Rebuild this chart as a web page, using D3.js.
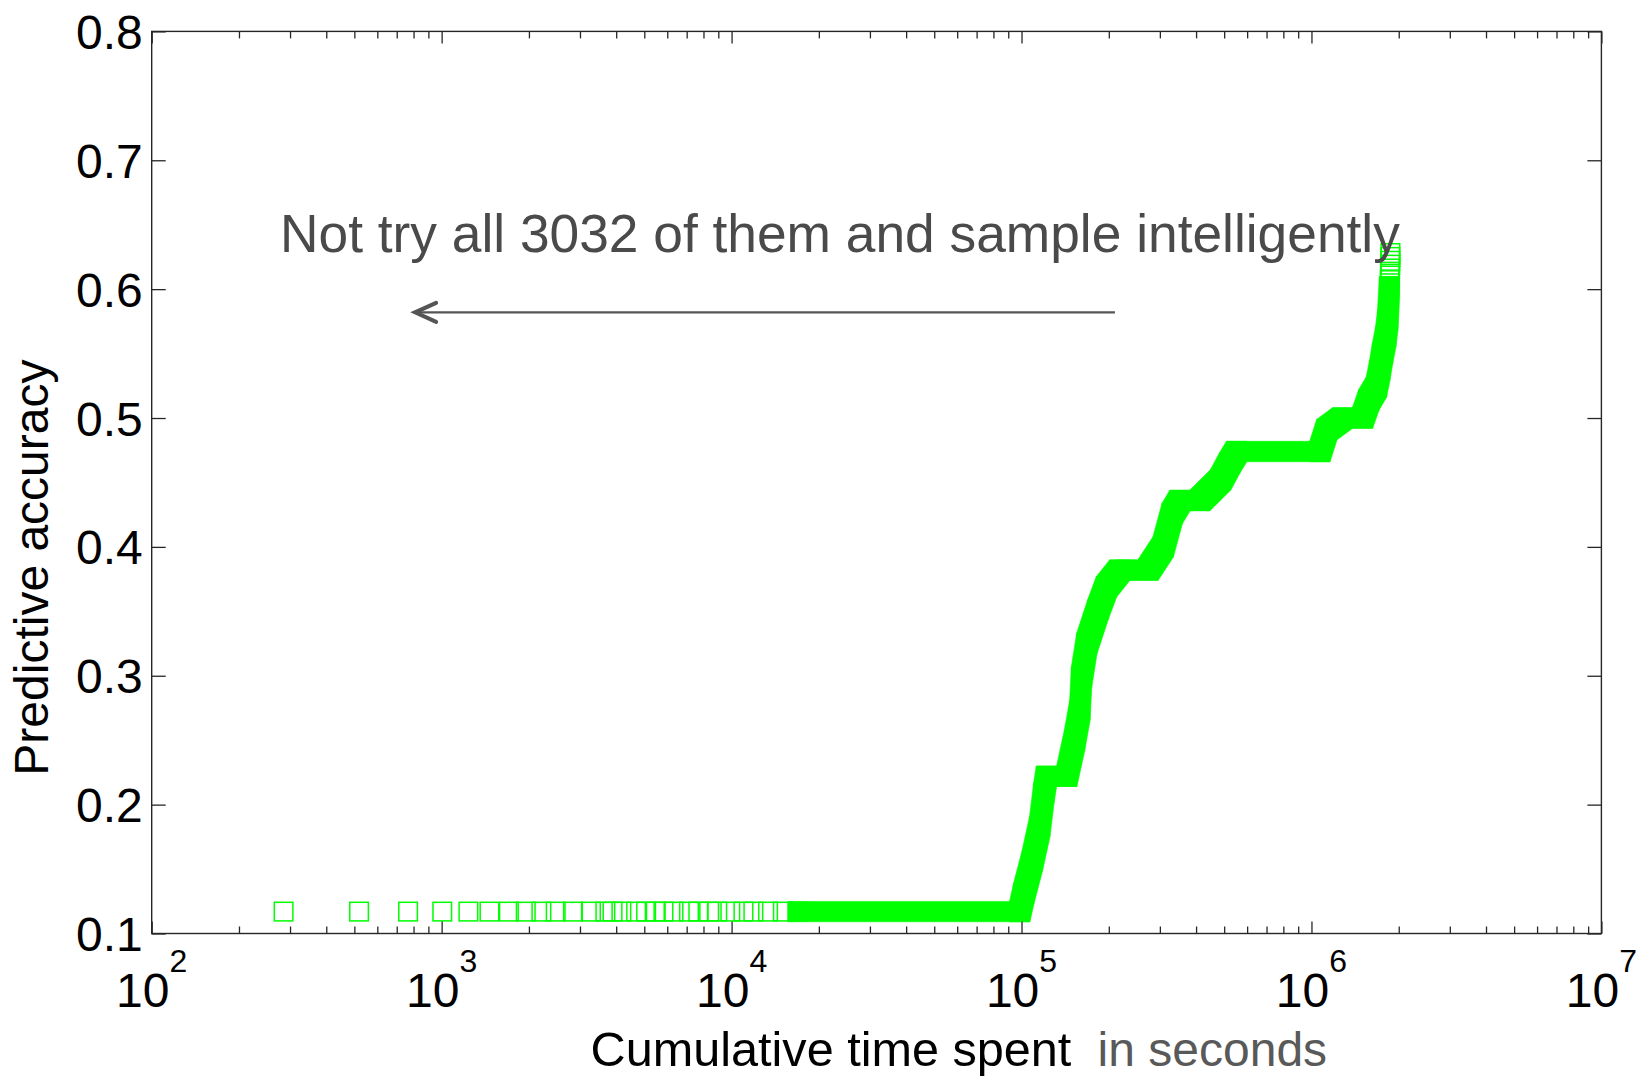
<!DOCTYPE html>
<html><head><meta charset="utf-8">
<script src="https://cdn.jsdelivr.net/npm/d3@7"></script>
<style>html,body{margin:0;padding:0;background:#fff;} svg{display:block;}</style>
</head><body><svg id="chart" width="1639" height="1077"></svg>
<script>
// ---------- data ----------
const yTickValues = [0.1, 0.2, 0.3, 0.4, 0.5, 0.6, 0.7, 0.8];
const yTickLabels = ["0.1", "0.2", "0.3", "0.4", "0.5", "0.6", "0.7", "0.8"];
const xDecadeExponents = [2, 3, 4, 5, 6, 7];
const xTickBase = "10";
const baselineAccuracy = 0.117;
// early (sparse) configurations, cumulative seconds, all at baseline accuracy
const sparseTimes = [285, 519, 766, 1005, 1237, 1462, 1706, 1950, 2208, 2474, 2838, 3273, 3671, 3885, 4168,
  4686, 5072, 5477, 5821, 6305, 7131, 7677, 8370, 8924, 9899, 10990, 11890, 13360, 15030];
// dense run of configurations (cumulative seconds, accuracy)
const bandTimes = [16930, 98600, 101800, 109100, 115600, 119400, 121900, 143200, 152400, 158900, 161100,
  168000, 183300, 196300, 218300, 230700, 273000, 308000, 331000, 352000, 412000, 486000, 522000, 552000,
  1069000, 1130000, 1280000, 1500000, 1577000, 1675000, 1720000, 1758000, 1804000, 1833000, 1858000];
const bandAccuracy = [0.117, 0.117, 0.131, 0.157, 0.183, 0.209, 0.222, 0.222, 0.250, 0.273, 0.299,
  0.325, 0.351, 0.369, 0.382, 0.382, 0.382, 0.400, 0.426, 0.436, 0.436, 0.452, 0.465, 0.474,
  0.474, 0.491, 0.500, 0.500, 0.514, 0.524, 0.537, 0.550, 0.563, 0.576, 0.602];
const topTimes = [1862000, 1865000, 1867000, 1869000, 1870000, 1871000, 1872000];
const topAccuracy = [0.607, 0.612, 0.616, 0.619, 0.622, 0.625, 0.628];
const xTitle = "Cumulative time spent";
const xTitleUnit = "in seconds";
const yTitle = "Predictive accuracy";
const annotationText = "Not try all 3032 of them and sample intelligently";
const arrowFrom = [210000, 0.582];
const arrowTo = [810, 0.582];

// ---------- layout ----------
const L = 151.7, R = 1601.4, T = 31.4, B = 933.5;
const FONT = "'Liberation Sans', Arial, Helvetica, sans-serif";
const axisColor = "#262626";
const green = "#00ff00";

const svg = d3.select("#chart");
const x = d3.scaleLog().domain([1e2, 1e7]).range([L, R]);
const y = d3.scaleLinear().domain([0.1, 0.8]).range([B, T]);

// ---------- data marks ----------
const band = bandTimes.map((t, i) => ({t, a: bandAccuracy[i]}));
const H = 10.2; // half of marker outer size
function corners(d) {
  const cx = x(d.t), cy = y(d.a);
  return [[cx - H, cy - H], [cx + H, cy - H], [cx + H, cy + H], [cx - H, cy + H]];
}
// swept squares between consecutive dense points (overlapping markers form a solid band)
const segs = d3.pairs(band);
svg.append("g").selectAll("path").data(segs).join("path")
  .attr("d", ([p, q]) => "M" + d3.polygonHull(corners(p).concat(corners(q))).join("L") + "Z")
  .attr("fill", green)
  .attr("stroke", green)
  .attr("stroke-width", 0.6);

const pts = sparseTimes.map(t => ({t, a: baselineAccuracy}))
  .concat(band)
  .concat(topTimes.map((t, i) => ({t, a: topAccuracy[i]})));
const S = 18.6;
svg.append("g").selectAll("rect").data(pts).join("rect")
  .attr("x", d => x(d.t) - S / 2)
  .attr("y", d => y(d.a) - S / 2)
  .attr("width", S).attr("height", S)
  .attr("fill", "none")
  .attr("stroke", green)
  .attr("stroke-width", 1.5);

// ---------- axes (ticks inward, box) ----------
const majorX = xDecadeExponents.map(e => Math.pow(10, e));
const minorX = [];
for (let e = 2; e < 7; e++) for (let m = 2; m <= 9; m++) minorX.push(m * Math.pow(10, e));

function styleAxis(g) {
  g.select(".domain").remove();
  g.selectAll(".tick line").attr("stroke", axisColor).attr("stroke-width", 1.3);
  g.selectAll(".tick text").remove();
}
svg.append("g").attr("transform", `translate(0,${B})`)
  .call(d3.axisBottom(x).tickValues(majorX).tickSizeInner(-12).tickSizeOuter(0).tickFormat("")).call(styleAxis);
svg.append("g").attr("transform", `translate(0,${B})`)
  .call(d3.axisBottom(x).tickValues(minorX).tickSizeInner(-7).tickSizeOuter(0).tickFormat("")).call(styleAxis);
svg.append("g").attr("transform", `translate(0,${T})`)
  .call(d3.axisTop(x).tickValues(majorX).tickSizeInner(-12).tickSizeOuter(0).tickFormat("")).call(styleAxis);
svg.append("g").attr("transform", `translate(0,${T})`)
  .call(d3.axisTop(x).tickValues(minorX).tickSizeInner(-7).tickSizeOuter(0).tickFormat("")).call(styleAxis);
svg.append("g").attr("transform", `translate(${L},0)`)
  .call(d3.axisLeft(y).tickValues(yTickValues).tickSizeInner(-14).tickSizeOuter(0).tickFormat("")).call(styleAxis);
svg.append("g").attr("transform", `translate(${R},0)`)
  .call(d3.axisRight(y).tickValues(yTickValues).tickSizeInner(-14).tickSizeOuter(0).tickFormat("")).call(styleAxis);

svg.append("rect")
  .attr("x", L).attr("y", T).attr("width", R - L).attr("height", B - T)
  .attr("fill", "none").attr("stroke", axisColor).attr("stroke-width", 1.4);

// ---------- tick labels ----------
svg.append("g").selectAll("text").data(yTickValues).join("text")
  .attr("x", L - 9)
  .attr("y", d => y(d) + 17.5)
  .attr("text-anchor", "end")
  .attr("font-family", FONT).attr("font-size", 48).attr("fill", "#000")
  .text((d, i) => yTickLabels[i]);

const xl = svg.append("g").selectAll("text").data(xDecadeExponents).join("text")
  .attr("x", d => x(Math.pow(10, d)))
  .attr("y", 1007)
  .attr("text-anchor", "middle")
  .attr("font-family", FONT).attr("fill", "#000");
xl.append("tspan").attr("font-size", 48).text(xTickBase);
xl.append("tspan").attr("font-size", 32).attr("dy", -35).text(d => String(d));

// ---------- axis titles ----------
svg.append("text")
  .attr("transform", `translate(48,567.6) rotate(-90)`)
  .attr("text-anchor", "middle")
  .attr("font-family", FONT).attr("font-size", 48).attr("fill", "#000")
  .text(yTitle);
svg.append("text")
  .attr("x", 590.6).attr("y", 1066)
  .attr("font-family", FONT).attr("font-size", 48.6).attr("fill", "#000")
  .text(xTitle);
svg.append("text")
  .attr("x", 1097.6).attr("y", 1066)
  .attr("font-family", FONT).attr("font-size", 48).attr("fill", "#595959")
  .text(xTitleUnit);

// ---------- annotation ----------
svg.append("text")
  .attr("x", 280).attr("y", 252)
  .attr("font-family", FONT).attr("font-size", 53.3).attr("fill", "#4a4a4a")
  .text(annotationText);
const ax0 = x(arrowFrom[0]), ay = y(arrowFrom[1]), ax1 = x(arrowTo[0]);
svg.append("line")
  .attr("x1", ax0).attr("y1", ay).attr("x2", ax1 + 2).attr("y2", ay)
  .attr("stroke", "#555").attr("stroke-width", 2.2);
svg.append("path")
  .attr("d", `M${ax1 + 21},${ay - 9.5} L${ax1},${ay} L${ax1 + 21},${ay + 9.5}`)
  .attr("fill", "none").attr("stroke", "#555").attr("stroke-width", 4)
  .attr("stroke-linecap", "round").attr("stroke-linejoin", "miter");
</script>
</body></html>
